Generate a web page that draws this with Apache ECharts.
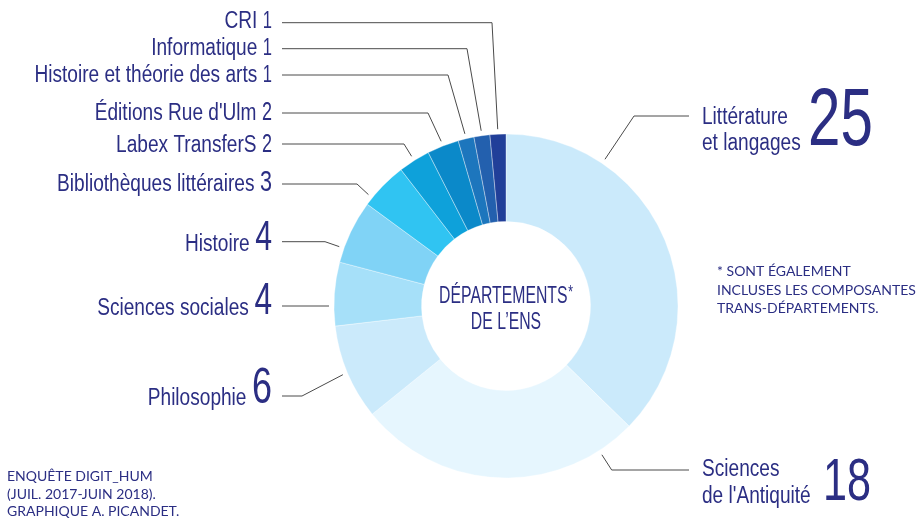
<!DOCTYPE html>
<html>
<head>
<meta charset="utf-8">
<script src="https://cdn.jsdelivr.net/npm/echarts@6/dist/echarts.min.js"></script>
<style>
  html, body { margin: 0; padding: 0; background: #fff; }
  #chart { width: 918px; height: 518px; }
</style>
</head>
<body>
<div id="chart"></div>
<script>
  // Départements de l'ENS (enquête Digit_Hum)
  var departements = ['Littérature et langages', 'Sciences de l\'Antiquité', 'Philosophie', 'Sciences sociales', 'Histoire',
    'Bibliothèques littéraires', 'Labex TransferS', 'Éditions Rue d\'Ulm', 'Histoire et théorie des arts', 'Informatique', 'CRI']
  var effectifs = [25, 18, 6, 4, 4, 3, 2, 2, 1, 1, 1]
  var couleurs = ['#cbeafb', '#e6f6fe', '#cbeafb', '#a6e0f9', '#80d3f6', '#30c4f2', '#0ea1da', '#0b89c9', '#1d76bd', '#2360ae', '#213f99']

  // placement des étiquettes (côté, ligne de base, taille du chiffre, trait, coude, angle d'accroche)
  var etiquettes = [
    {side: 'r', base: 125.5, numX: 808, numBase: 150.5, size: 81, lineY: 116, elbowX: 634, anchor: 34},
    {side: 'r', base: 477.7, numX: 823, numBase: 504, size: 60, lineY: 470, elbowX: 611.7, anchor: 147.2},
    {side: 'l', base: 406.7, size: 50, lineY: 396, elbowX: 302, anchor: null},
    {side: 'l', base: 316.7, size: 44, lineY: 306, elbowX: null, anchor: 270},
    {side: 'l', base: 252.7, size: 42, lineY: 241.7, elbowX: 325, anchor: 289.6},
    {side: 'l', base: 193, size: 30, lineY: 184, elbowX: 357, anchor: 309},
    {side: 'l', base: 153.5, size: 25, lineY: 144, elbowX: 404, anchor: null},
    {side: 'l', base: 122, size: 25, lineY: 113, elbowX: 428, anchor: null},
    {side: 'l', base: 83.5, size: 23, lineY: 75, elbowX: 448, anchor: null},
    {side: 'l', base: 57, size: 23, lineY: 48.7, elbowX: 467, anchor: null},
    {side: 'l', base: 30, size: 23, lineY: 22.7, elbowX: 492, anchor: null}
  ]

  var POLICE = '"Liberation Sans", Arial, sans-serif'
  var NOTE = 'Lato, "Noto Sans", sans-serif'
  var BLEU = '#2b2e83'
  var TRAIT = '#4a4a4a'
  var FS = 23        // taille des noms
  var LH = 26.5      // interligne des noms sur deux lignes
  var MID = 0.3465   // décalage milieu -> ligne de base
  var SX_NOM = 0.83, SX_NUM = 0.72, SX_CENTRE = 0.64   // resserrement horizontal (police étroite)
  var CX = 506, CY = 306, R0 = 84.5, R1 = 172
  var X_GAUCHE = 272, X_TRAIT = 282, X_DROITE = 702, FIN_TRAIT = 689

  var ctx = document.createElement('canvas').getContext('2d')
  function largeur(txt, size) {
    ctx.font = size + 'px ' + POLICE
    return ctx.measureText(txt).width
  }

  var total = effectifs.reduce(function (a, b) { return a + b }, 0)
  function angleMilieu(i) {
    var avant = 0
    for (var k = 0; k < i; k++) avant += effectifs[k]
    return (avant + effectifs[i] / 2) / total * 360
  }
  function accroche(i) {
    var e = etiquettes[i]
    var a = (e.anchor == null ? angleMilieu(i) : e.anchor) * Math.PI / 180
    return [CX + (R1 + 5) * Math.sin(a), CY - (R1 + 5) * Math.cos(a)]
  }

  function texte(txt, x, y, size, sx, align, vAlign) {
    return {
      type: 'text', x: x, y: y, scaleX: sx,
      style: {text: txt, x: 0, y: 0, font: size + 'px ' + POLICE, fill: BLEU, align: align, verticalAlign: vAlign, lineHeight: LH}
    }
  }

  var chart = echarts.init(document.getElementById('chart'))
  chart.setOption({
    animation: false,
    series: [
      {
        type: 'pie',
        center: [CX, CY],
        radius: [R0, R1],
        startAngle: 90,
        silent: true,
        label: {show: false},
        labelLine: {show: false},
        itemStyle: {borderColor: 'rgba(255,255,255,0.45)', borderWidth: 0.8},
        data: departements.map(function (nom, i) {
          return {name: nom, value: effectifs[i], itemStyle: {color: couleurs[i]}}
        })
      },
      {
        // étiquettes : nom, effectif et trait de rappel
        type: 'custom',
        coordinateSystem: 'none',
        silent: true,
        data: effectifs.map(function (v, i) { return [i, v] }),
        renderItem: function (params, api) {
          var i = api.value(0)
          var v = String(api.value(1))
          var e = etiquettes[i]
          var pt = accroche(i)
          var enfants = []
          if (e.side === 'r') {
            enfants.push({
              type: 'polyline', shape: {points: [pt, [e.elbowX, e.lineY], [FIN_TRAIT, e.lineY]]},
              style: {stroke: TRAIT, lineWidth: 1, fill: null}
            })
            enfants.push(texte(departements[i].replace(' ', '\n'), X_DROITE, e.base - LH / 2 - MID * FS, FS, SX_NOM, 'left', 'top'))
            enfants.push(texte(v, e.numX, e.numBase - MID * e.size, e.size, SX_NUM, 'left', 'middle'))
          } else {
            var pts = [[X_TRAIT, e.lineY]]
            if (e.elbowX != null) pts.push([e.elbowX, e.lineY])
            pts.push(pt)
            enfants.push({type: 'polyline', shape: {points: pts}, style: {stroke: TRAIT, lineWidth: 1, fill: null}})
            var w = largeur(v, e.size) * SX_NUM
            enfants.push(texte(departements[i], X_GAUCHE - w - 5.5, e.base - MID * FS, FS, SX_NOM, 'right', 'middle'))
            enfants.push(texte(v, X_GAUCHE, e.base - MID * e.size, e.size, SX_NUM, 'right', 'middle'))
          }
          return {type: 'group', children: enfants}
        }
      }
    ],
    graphic: [
      {
        type: 'text',
        x: CX, y: 304.3 - 12.85 - MID * 24.7 + 0.5, scaleX: SX_CENTRE,
        style: {
          x: 0, y: 0, text: '{t|DÉPARTEMENTS}{s|*}\n{t|DE L\u2019ENS}',
          align: 'center', verticalAlign: 'top', fill: BLEU,
          rich: {
            t: {fontFamily: POLICE, fontSize: 24.7, lineHeight: 25.7, fill: BLEU},
            s: {fontFamily: POLICE, fontSize: 19, lineHeight: 25.7, verticalAlign: 'top', fill: BLEU, padding: [0, 0, 0, 1]}
          }
        }
      },
      {
        type: 'text',
        style: {
          x: 717, y: 276.7 - 9.15 - MID * 14, text: '* SONT ÉGALEMENT\nINCLUSES LES COMPOSANTES\nTRANS-DÉPARTEMENTS.',
          font: '14px ' + NOTE, lineHeight: 18.3, fill: BLEU, align: 'left', verticalAlign: 'top'
        }
      },
      {
        type: 'text',
        style: {
          x: 7, y: 481.7 - 8.75 - MID * 14, text: 'ENQUÊTE DIGIT_HUM\n(JUIL. 2017-JUIN 2018).\nGRAPHIQUE A. PICANDET.',
          font: '14px ' + NOTE, lineHeight: 17.5, fill: BLEU, align: 'left', verticalAlign: 'top'
        }
      }
    ]
  })
</script>
</body>
</html>
